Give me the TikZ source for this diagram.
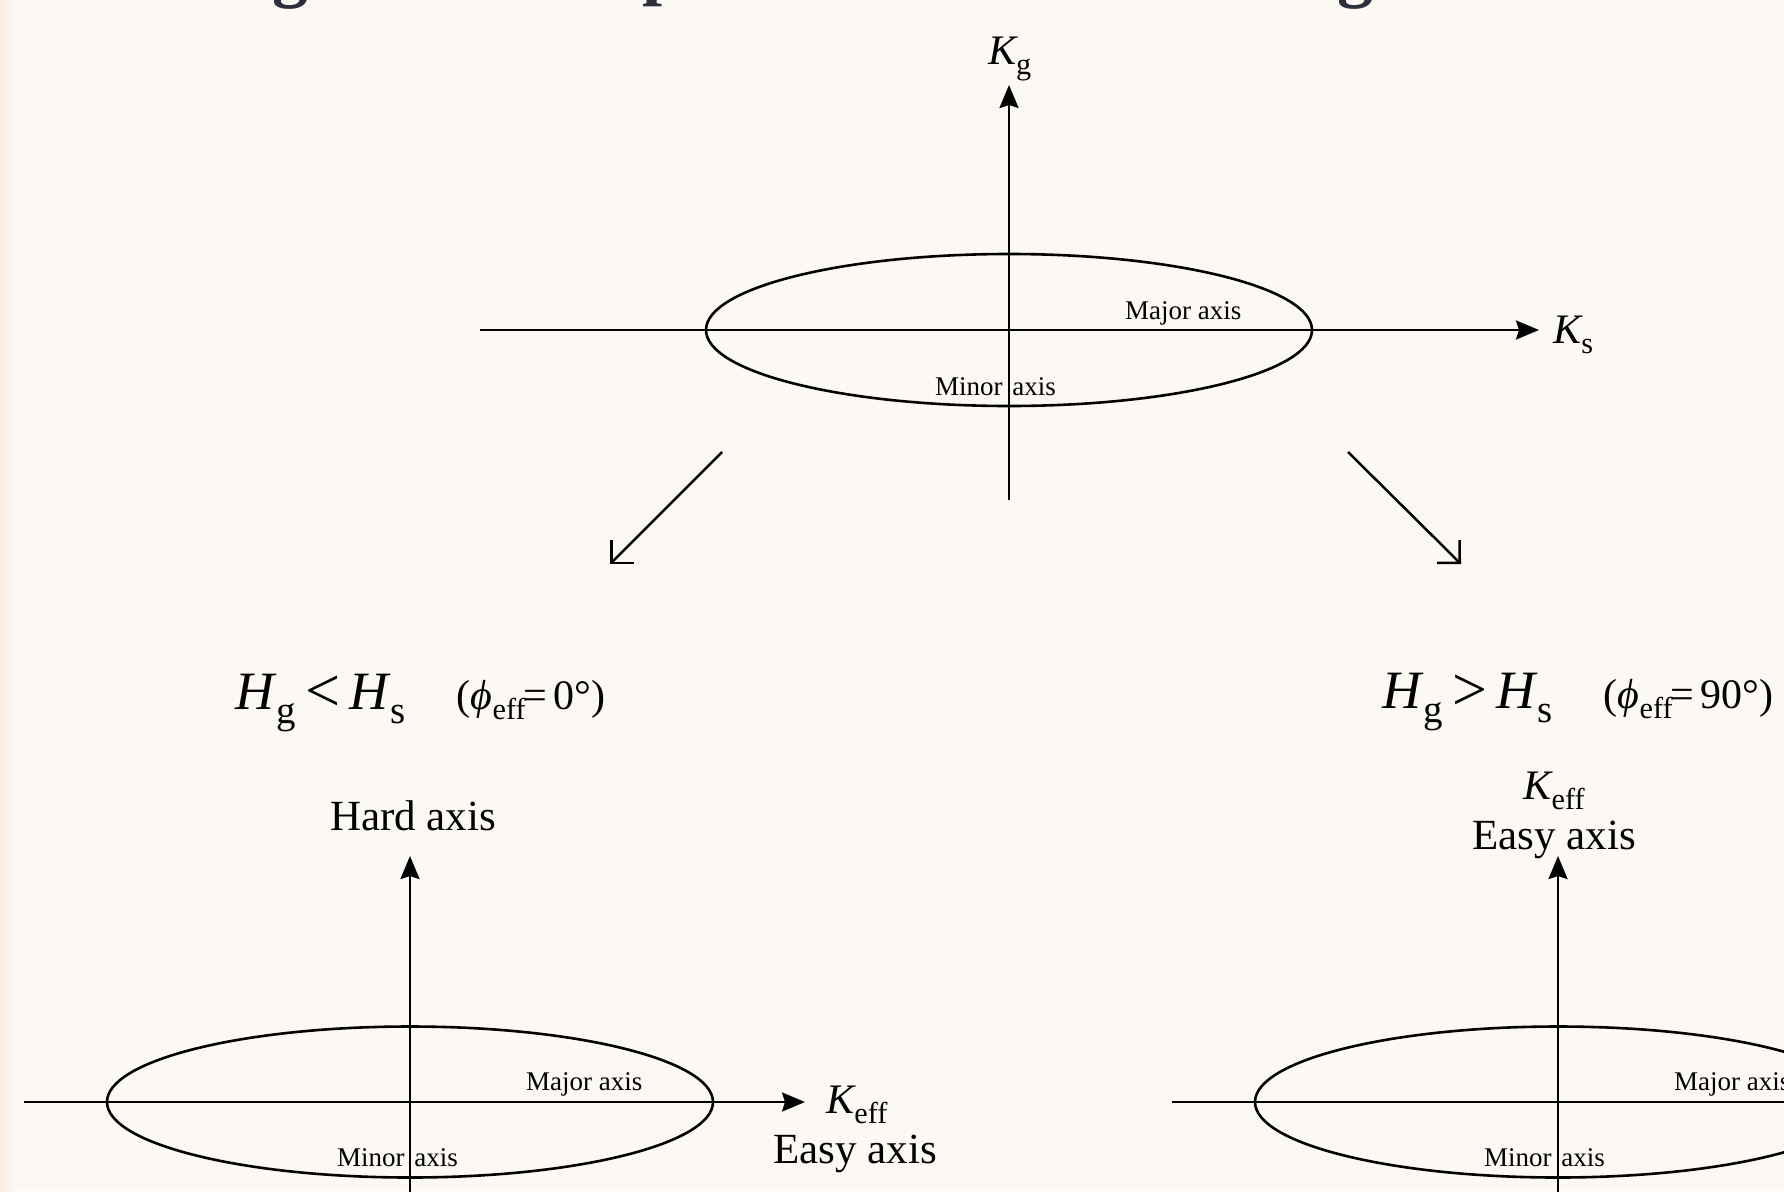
\documentclass[tikz,border=0pt]{standalone}
\usepackage{fontspec}
\usepackage{graphicx}
\setmainfont{Liberation Serif}
\usetikzlibrary{arrows.meta}
\definecolor{bgC}{HTML}{FCF9F4}
\definecolor{edgeC}{HTML}{FBEFE3}
\definecolor{titleC}{HTML}{2B303B}
\newcommand{\lsub}[1]{\raisebox{-0.26em}{\scalebox{0.72}{#1}}}
\newcommand{\bigrel}[1]{\raisebox{-0.04em}{\scalebox{1.15}{#1}}}
\newcommand{\paren}[1]{{\fontsize{42}{48}\selectfont(\textit{ϕ}\lsub{eff}\kern-0.06em=\,#1°)}}
\tikzset{
  ax/.style={line width=2.5pt, black},
  axarrow/.style={ax, -{Stealth[length=23pt,width=19pt,inset=3pt]}},
  ell/.style={line width=2.6pt, black},
  diag/.style={line width=2.5pt, black, -{Straight Barb[length=16pt,width=32pt,line width=2.5pt]}},
  smalllab/.style={inner sep=0pt, font=\fontsize{27}{32}\selectfont},
  klab/.style={inner sep=0pt, font=\fontsize{42}{48}\selectfont},
  axlab/.style={inner sep=0pt, font=\fontsize{43}{50}\selectfont},
  hlab/.style={inner sep=0pt, font=\fontsize{54}{62}\selectfont},
  titlelab/.style={inner sep=0pt, text=titleC, font=\fontsize{72}{80}\selectfont\bfseries},
}
\begin{document}
\begin{tikzpicture}[x=1pt,y=-1pt]
\useasboundingbox (0,0) rectangle (1784,1191);
\clip (0,0) rectangle (1784,1191);
\fill[bgC] (0,0) rectangle (1784,1191);
\shade[left color=edgeC, right color=bgC] (0,0) rectangle (16,1191);

% cut-off title glyphs
\node[titlelab, anchor=base] (t1) at (290,-6.5) {g};
\node[titlelab, anchor=base] (t2) at (663,-8.5) {p};
\node[titlelab, anchor=base] (t3) at (1355,-6.5) {g};

% ---------- top diagram ----------
\coordinate (o1) at (1009,330);
\coordinate (o1b) at (1009,500);
\coordinate (o1t) at (1009,85);
\coordinate (o1l) at (480,330);
\coordinate (o1r) at (1539,330);
\draw[ell] (o1) ellipse [x radius=303, y radius=76];
\draw[axarrow] (o1l) -- (o1r);
\draw[axarrow] (o1b) -- (o1t);
\node[smalllab, anchor=base west] (maj1) at (1125,319) {Major axis};
\node[smalllab, anchor=base west] (min1) at (935,395) {Minor\hspace{0.36em}axis};
\node[klab, anchor=base] (kg) at (1010,64) {\textit{K}\kern-0.06em\lsub{g}};
\node[klab, anchor=base west] (ks) at (1553,343) {\textit{K}\kern-0.04em\lsub{s}};

% diagonal arrows
\coordinate (a1s) at (722,452);
\coordinate (a1e) at (610,564);
\coordinate (a2s) at (1348,452);
\coordinate (a2e) at (1461,564);
\draw[diag] (a1s) -- (a1e);
\draw[diag] (a2s) -- (a2e);

% condition labels
\node[hlab, anchor=base west] (hl) at (235,709) {\textit{H}\lsub{g}\,\bigrel{<}\,\textit{H}\lsub{s}\hspace{0.95em}\paren{0}};
\node[hlab, anchor=base west] (hr) at (1382,708) {\textit{H}\lsub{g}\,\bigrel{>}\,\textit{H}\lsub{s}\hspace{0.95em}\paren{90}};

% ---------- bottom-left diagram ----------
\coordinate (o2) at (410,1102);
\coordinate (o2b) at (410,1210);
\coordinate (o2t) at (410,856);
\coordinate (o2l) at (24,1102);
\coordinate (o2r) at (805,1102);
\draw[ell] (o2) ellipse [x radius=303, y radius=75.5];
\draw[axarrow] (o2l) -- (o2r);
\draw[axarrow] (o2b) -- (o2t);
\node[smalllab, anchor=base west] (maj2) at (526,1090) {Major axis};
\node[smalllab, anchor=base west] (min2) at (337,1166) {Minor\hspace{0.36em}axis};
\node[axlab, anchor=base] (hard) at (413,830) {Hard axis};
\node[klab, anchor=base west] (ke2) at (826,1113) {\textit{K}\kern-0.04em\lsub{eff}};
\node[axlab, anchor=base west] (easy2) at (773,1163) {Easy axis};

% ---------- bottom-right diagram ----------
\coordinate (o3) at (1558,1102);
\coordinate (o3b) at (1558,1210);
\coordinate (o3t) at (1558,856);
\coordinate (o3l) at (1172,1102);
\coordinate (o3r) at (1800,1102);
\draw[ell] (o3) ellipse [x radius=303, y radius=75.5];
\draw[ax] (o3l) -- (o3r);
\draw[axarrow] (o3b) -- (o3t);
\node[smalllab, anchor=base west] (maj3) at (1674,1090) {Major axis};
\node[smalllab, anchor=base west] (min3) at (1484,1166) {Minor\hspace{0.36em}axis};
\node[klab, anchor=base] (ke3) at (1554,799) {\textit{K}\kern-0.04em\lsub{eff}};
\node[axlab, anchor=base] (easy3) at (1554,849) {Easy axis};
\end{tikzpicture}
\end{document}
